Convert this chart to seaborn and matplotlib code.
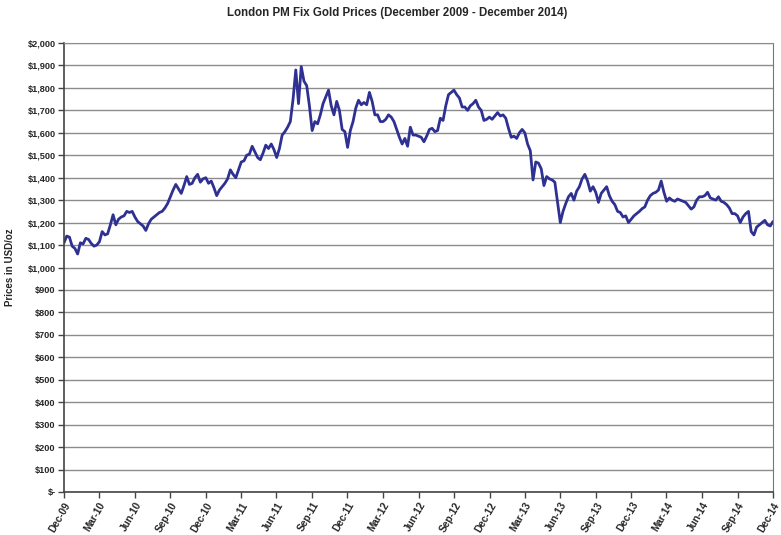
import numpy as np
import pandas as pd
import matplotlib
matplotlib.use("Agg")
import matplotlib.pyplot as plt
import matplotlib.ticker as mticker
import seaborn as sns

# weekly-ish readings of the London PM fix (USD/oz), one row per quarter
q_prices = [
    [1110, 1140, 1135, 1095, 1085, 1060, 1110, 1105, 1130, 1125, 1107, 1095, 1100],
    [1115, 1160, 1145, 1150, 1190, 1235, 1190, 1215, 1225, 1230, 1250, 1245, 1250],
    [1225, 1205, 1195, 1185, 1165, 1195, 1215, 1225, 1235, 1245, 1250, 1265, 1285],
    [1315, 1345, 1370, 1350, 1330, 1365, 1405, 1370, 1375, 1400, 1415, 1380, 1395],
    [1400, 1375, 1385, 1355, 1320, 1345, 1360, 1375, 1395, 1435, 1415, 1400, 1435],
    [1470, 1475, 1500, 1505, 1540, 1515, 1490, 1480, 1510, 1545, 1530, 1550, 1525],
    [1490, 1530, 1590, 1605, 1625, 1650, 1750, 1880, 1730, 1895, 1830, 1810, 1720],
    [1610, 1650, 1640, 1680, 1730, 1760, 1790, 1720, 1680, 1740, 1700, 1615, 1605],
    [1535, 1610, 1650, 1710, 1745, 1725, 1735, 1725, 1780, 1740, 1680, 1680, 1650],
    [1650, 1660, 1680, 1670, 1650, 1615, 1580, 1550, 1575, 1540, 1625, 1590, 1590],
    [1585, 1580, 1560, 1585, 1615, 1620, 1605, 1610, 1665, 1655, 1720, 1770, 1780],
    [1790, 1770, 1755, 1715, 1715, 1700, 1720, 1730, 1745, 1715, 1700, 1655, 1660],
    [1670, 1660, 1675, 1690, 1675, 1680, 1665, 1620, 1580, 1585, 1575, 1600, 1615],
    [1600, 1550, 1520, 1390, 1470, 1465, 1440, 1365, 1405, 1395, 1390, 1380, 1290],
    [1200, 1250, 1285, 1315, 1330, 1300, 1340, 1360, 1395, 1415, 1385, 1340, 1360],
    [1335, 1290, 1330, 1345, 1360, 1320, 1295, 1280, 1250, 1245, 1225, 1230, 1200],
    [1215, 1230, 1240, 1250, 1262, 1270, 1300, 1320, 1330, 1335, 1345, 1385, 1335],
    [1295, 1310, 1300, 1295, 1305, 1300, 1295, 1290, 1275, 1260, 1270, 1300, 1315],
    [1315, 1320, 1335, 1310, 1305, 1300, 1315, 1295, 1290, 1280, 1265, 1240, 1240],
    [1230, 1200, 1225, 1240, 1250, 1160, 1145, 1180, 1190, 1200, 1210, 1190, 1185],
]
last_price = 1205

prices = [p for row in q_prices for p in row] + [last_price]
dates = pd.date_range("2009-12-01", "2014-12-01", periods=len(prices))
df = pd.DataFrame({"date": dates, "price": prices})

tick_dates = pd.date_range("2009-12-01", "2014-12-01", freq="3MS")
tick_labels = [d.strftime("%b-%y") for d in tick_dates]

sns.set_style("white")
plt.rcParams["font.family"] = ["Liberation Sans", "DejaVu Sans"]

fig = plt.figure(figsize=(7.81, 5.35), dpi=100)
ax = fig.add_axes([64 / 781, 1 - 492 / 535, (773 - 64) / 781, (492 - 43) / 535])

sns.lineplot(data=df, x="date", y="price", ax=ax, color="#2e3192", linewidth=2)

ax.set_xlim(dates[0], dates[-1])
ax.set_ylim(0, 2000)
ax.yaxis.set_major_locator(mticker.MultipleLocator(100))
ax.yaxis.set_major_formatter(
    mticker.FuncFormatter(lambda v, _: "$-" if v == 0 else f"${v:,.0f}"))
ax.set_xticks(tick_dates)
ax.set_xticklabels(tick_labels, rotation=60, ha="right", rotation_mode="anchor",
                   fontsize=7.2, fontweight="bold")
for lab in ax.get_yticklabels():
    lab.set_fontsize(6.6)
    lab.set_fontweight("bold")

ax.grid(axis="y", color="#8c8c8c", linewidth=1)
ax.set_axisbelow(True)
ax.tick_params(axis="both", direction="out", length=4, width=1, color="#444444",
               bottom=True, left=True, pad=2)
for side in ["left", "bottom"]:
    ax.spines[side].set_color("#444444")
    ax.spines[side].set_linewidth(1.2)
ax.spines["right"].set_color("#777777")
ax.spines["top"].set_color("#8c8c8c")

ax.set_xlabel("")
ax.set_ylabel("Prices in USD/oz", fontsize=7, fontweight="bold", labelpad=9)
fig.text(0.508, 1 - 13 / 535, "London PM Fix Gold Prices (December 2009 - December 2014)",
         ha="center", va="center", fontsize=8.3, fontweight="bold")

fig.savefig("out.png", dpi=100)
